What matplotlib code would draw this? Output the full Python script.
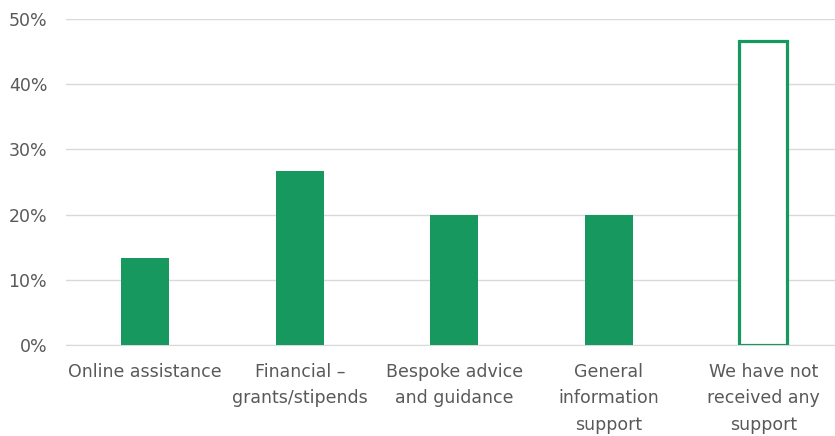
import matplotlib.pyplot as plt
from matplotlib.ticker import PercentFormatter

categories = ["Online assistance", "Financial –\ngrants/stipends", "Bespoke advice\nand guidance",
              "General\ninformation\nsupport", "We have not\nreceived any\nsupport"]
values = [13.3, 26.7, 20.0, 20.0, 46.7]
outlined = [False, False, False, False, True]

green = "#17985e"
grey = "#595959"

fig = plt.figure(figsize=(8.35, 4.36), dpi=100)
ax = fig.add_axes([0.079, 0.209, 0.921, 0.747])

x = range(len(categories))
for i, (v, o) in enumerate(zip(values, outlined)):
    if o:
        ax.bar(i, v, width=0.31, color="white", edgecolor=green, linewidth=2.3, zorder=3)
    else:
        ax.bar(i, v, width=0.31, color=green, zorder=3)

ax.set_xlim(-0.513, 4.464)
ax.set_ylim(0, 50)
ax.set_yticks(range(0, 51, 10))
ax.yaxis.set_major_formatter(PercentFormatter(decimals=0))
ax.set_xticks(list(x))
ax.set_xticklabels(categories, linespacing=1.6)

ax.grid(axis="y", color="#d9d9d9", linewidth=1, zorder=0)
for s in ["top", "right", "left"]:
    ax.spines[s].set_visible(False)
ax.spines["bottom"].set_color("#d9d9d9")
ax.tick_params(length=0, colors=grey, labelsize=12.5)
ax.tick_params(axis="x", pad=13)
ax.tick_params(axis="y", pad=13.5)

fig.savefig("out.png")
